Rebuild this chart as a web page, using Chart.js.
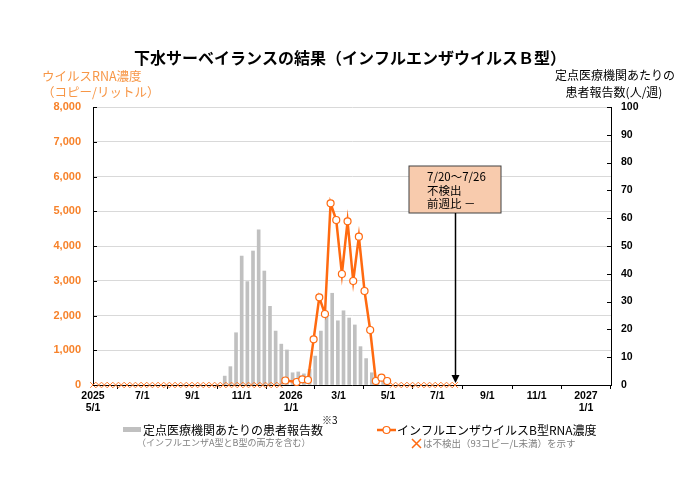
<!DOCTYPE html>
<html lang="ja">
<head>
<meta charset="UTF-8">
<title>下水サーベイランスの結果（インフルエンザウイルスＢ型）</title>
<script src="https://cdn.jsdelivr.net/npm/chart.js"></script>
<style>
  body { margin: 0; background: #fff; }
  #wrap { width: 700px; height: 485px; }
</style>
</head>
<body>
<div id="wrap"><canvas id="flu" width="700" height="485"></canvas></div>
<script>
// 下水の採水日（週ごと）
const sampleDates = [
  '2025-05-01','2025-05-08','2025-05-15','2025-05-22','2025-05-29','2025-06-05','2025-06-12','2025-06-19','2025-06-26',
  '2025-07-03','2025-07-10','2025-07-17','2025-07-24','2025-07-31','2025-08-07','2025-08-14','2025-08-21','2025-08-28',
  '2025-09-04','2025-09-11','2025-09-18','2025-09-25','2025-10-02','2025-10-09','2025-10-16','2025-10-23','2025-10-30',
  '2025-11-06','2025-11-13','2025-11-20','2025-11-27','2025-12-04','2025-12-11','2025-12-18','2025-12-25','2026-01-01',
  '2026-01-08','2026-01-15','2026-01-22','2026-01-29','2026-02-05','2026-02-12','2026-02-19','2026-02-26','2026-03-05',
  '2026-03-12','2026-03-19','2026-03-26','2026-04-02','2026-04-09','2026-04-16','2026-04-23','2026-04-30','2026-05-07',
  '2026-05-14','2026-05-21','2026-05-28','2026-06-04','2026-06-11','2026-06-18','2026-06-25','2026-07-02','2026-07-09',
  '2026-07-16','2026-07-23'
];
// インフルエンザB型RNA濃度（コピー/L）  'ND' = 不検出, null = 採水なし
const rnaValues = [
  'ND','ND','ND','ND','ND','ND','ND','ND','ND',
  'ND','ND','ND','ND','ND','ND','ND','ND','ND',
  'ND','ND','ND','ND','ND','ND','ND','ND','ND',
  'ND','ND','ND','ND','ND','ND','ND',130,null,
  86,163,144,1314,2523,2043,5228,4748,3194,
  4710,2993,4269,2705,1583,115,211,115,'ND',
  'ND','ND','ND','ND','ND','ND','ND','ND','ND',
  'ND','ND'
];
// 定点医療機関あたりの患者報告数（人/週）
const reportDates = [
  '2025-10-11','2025-10-18','2025-10-25','2025-11-01','2025-11-08','2025-11-15','2025-11-22','2025-11-29',
  '2025-12-06','2025-12-13','2025-12-20','2025-12-27','2026-01-03','2026-01-10','2026-01-17','2026-01-24',
  '2026-01-31','2026-02-07','2026-02-14','2026-02-21','2026-02-28','2026-03-07','2026-03-14','2026-03-21',
  '2026-03-28','2026-04-04','2026-04-11','2026-04-18','2026-04-25'
];
const reportValues = [
  3.2, 6.6, 18.8, 46.4, 37.2, 48.2, 55.8, 41.0,
  28.3, 19.4, 14.7, 12.6, 4.4, 4.7, 4.0, 5.6,
  10.4, 19.4, 24.8, 33.0, 23.1, 26.7, 24.1, 21.6,
  13.8, 9.5, 4.4, 2.8, 2.0
];
// x軸の目盛り
const tickDates = ['2025-05-01','2025-07-01','2025-09-01','2025-11-01','2026-01-01','2026-03-01',
                   '2026-05-01','2026-07-01','2026-09-01','2026-11-01','2027-01-01'];
const tickLabels = [['2025','5/1'],['7/1'],['9/1'],['11/1'],['2026','1/1'],['3/1'],
                    ['5/1'],['7/1'],['9/1'],['11/1'],['2027','1/1']];
const axisStart = '2025-05-01';
const axisEnd = '2027-02-01';
const latestWeek = ['7/20～7/26', '不検出', '前週比 －'];

const ORANGE = '#ff6a10';
const ORANGE_TXT = '#f7822a';
const JP = '"Noto Sans CJK JP", sans-serif';
const NUM = '"Liberation Sans", Arial, sans-serif';

function dayOf(s) {
  return (Date.parse(s) - Date.parse(axisStart)) / 86400000;
}
const tickDays = tickDates.map(dayOf);

const rnaPoints = [];
const ndPoints = [];
sampleDates.forEach((d, i) => {
  const v = rnaValues[i];
  if (v === 'ND') ndPoints.push({ x: dayOf(d), y: 0 });
  else if (v !== null) rnaPoints.push({ x: dayOf(d), y: v });
});
const barPoints = reportDates.map((d, i) => ({ x: dayOf(d), y: reportValues[i] }));

// タイトル・軸タイトル・凡例・注記
const decor = {
  id: 'decor',
  afterDraw(chart) {
    const ctx = chart.ctx;
    const a = chart.chartArea;
    const y = chart.scales.y, y2 = chart.scales.y2, x = chart.scales.x;
    ctx.save();
    ctx.textBaseline = 'middle';

    ctx.fillStyle = '#000';
    ctx.font = 'bold 16px ' + JP;
    ctx.textAlign = 'center';
    ctx.fillText('下水サーベイランスの結果（インフルエンザウイルスＢ型）', 350, 58);

    ctx.font = '12.5px ' + JP;
    ctx.fillStyle = '#f79646';
    ctx.textAlign = 'left';
    ctx.fillText('ウイルスRNA濃度', 42, 76);
    ctx.fillText('（コピー/リットル）', 42, 92);

    ctx.fillStyle = '#000';
    ctx.textAlign = 'center';
    ctx.font = '12px ' + JP;
    ctx.fillText('定点医療機関あたりの', 615, 75);
    ctx.fillText('患者報告数(人/週)', 614, 92);

    // 内向きの目盛り
    ctx.strokeStyle = '#000';
    ctx.lineWidth = 1;
    ctx.beginPath();
    y.ticks.forEach(t => {
      const py = Math.round(y.getPixelForValue(t.value)) + 0.5;
      ctx.moveTo(a.left, py); ctx.lineTo(a.left + 4, py);
    });
    y2.ticks.forEach(t => {
      const py = Math.round(y2.getPixelForValue(t.value)) + 0.5;
      ctx.moveTo(a.right - 4, py); ctx.lineTo(a.right, py);
    });
    ctx.stroke();

    // 凡例
    ctx.fillStyle = '#c0c0c0';
    ctx.fillRect(123, 427, 18, 5);
    ctx.fillStyle = '#000';
    ctx.textAlign = 'left';
    ctx.font = '12px ' + JP;
    ctx.fillText('定点医療機関あたりの患者報告数', 143, 430);
    ctx.font = '10px ' + JP;
    ctx.fillText('※3', 322, 420);
    ctx.fillStyle = '#7f7f7f';
    ctx.font = '9px ' + JP;
    ctx.fillText('（インフルエンザA型とB型の両方を含む）', 137, 443);

    ctx.strokeStyle = ORANGE;
    ctx.lineWidth = 2.5;
    ctx.beginPath(); ctx.moveTo(377, 430); ctx.lineTo(396, 430); ctx.stroke();
    ctx.fillStyle = '#fff';
    ctx.lineWidth = 1.2;
    ctx.beginPath(); ctx.arc(386.5, 430, 3.5, 0, Math.PI * 2); ctx.fill(); ctx.stroke();
    ctx.fillStyle = '#000';
    ctx.font = '12px ' + JP;
    ctx.fillText('インフルエンザウイルスB型RNA濃度', 397, 430);
    ctx.strokeStyle = ORANGE;
    ctx.lineWidth = 1.5;
    ctx.beginPath();
    ctx.moveTo(412, 439); ctx.lineTo(421, 448);
    ctx.moveTo(421, 439); ctx.lineTo(412, 448);
    ctx.stroke();
    ctx.fillStyle = '#7f7f7f';
    ctx.font = '9.5px ' + JP;
    ctx.fillText('は不検出（93コピー/L未満）を示す', 423, 443);

    // 最新週の注記
    const last = sampleDates[sampleDates.length - 1];
    const ax = Math.round(x.getPixelForValue(dayOf(last))) + 0.5;
    const bx = ax - 46.5, by = 166, bw = 92, bh = 47;
    ctx.fillStyle = '#f8cbad';
    ctx.fillRect(bx, by, bw, bh);
    ctx.strokeStyle = '#404040';
    ctx.lineWidth = 1;
    ctx.strokeRect(bx, by, bw, bh);
    ctx.fillStyle = '#000';
    ctx.font = '11.5px ' + JP;
    latestWeek.forEach((t, i) => ctx.fillText(t, bx + 18, 177 + i * 13.5));

    ctx.strokeStyle = '#000';
    ctx.lineWidth = 1.5;
    ctx.beginPath(); ctx.moveTo(ax, by + bh); ctx.lineTo(ax, a.bottom - 8); ctx.stroke();
    ctx.fillStyle = '#000';
    ctx.beginPath();
    ctx.moveTo(ax - 4, a.bottom - 10);
    ctx.lineTo(ax + 4, a.bottom - 10);
    ctx.lineTo(ax, a.bottom - 2);
    ctx.closePath();
    ctx.fill();
    ctx.restore();
  }
};

const chart = new Chart(document.getElementById('flu'), {
  type: 'line',
  data: {
    datasets: [
      {
        label: 'インフルエンザウイルスB型RNA濃度',
        data: rnaPoints,
        yAxisID: 'y',
        borderColor: ORANGE,
        borderWidth: 2.5,
        pointRadius: 3.5,
        pointBorderWidth: 1.2,
        pointBackgroundColor: '#fff',
        pointBorderColor: ORANGE,
        tension: 0,
        clip: false,
        order: 0
      },
      {
        label: '不検出',
        data: ndPoints,
        yAxisID: 'y',
        showLine: false,
        pointStyle: 'crossRot',
        pointRadius: 4,
        pointBorderWidth: 1,
        pointBorderColor: '#ff7a2a',
        clip: false,
        order: 1
      },
      {
        type: 'bar',
        label: '定点医療機関あたりの患者報告数',
        data: barPoints,
        yAxisID: 'y2',
        backgroundColor: '#c0c0c0',
        barThickness: 3,
        order: 2
      }
    ]
  },
  options: {
    responsive: false,
    animation: false,
    devicePixelRatio: 1,
    layout: { padding: { left: 0, right: 0, top: 107, bottom: 60 } },
    plugins: { legend: { display: false }, tooltip: { enabled: false } },
    scales: {
      x: {
        type: 'linear',
        min: 0,
        max: dayOf(axisEnd),
        offset: false,
        afterBuildTicks: s => { s.ticks = tickDays.map(v => ({ value: v })); },
        afterFit: s => { s.height = 40; },
        grid: { drawOnChartArea: false, color: '#000', tickLength: 4 },
        border: { color: '#000' },
        ticks: {
          autoSkip: false,
          maxRotation: 0,
          padding: 1,
          color: '#000',
          font: { family: NUM, size: 10.5, weight: 'bold', lineHeight: 1.15 },
          callback: v => {
            const i = tickDays.indexOf(v);
            return i >= 0 ? tickLabels[i] : '';
          }
        }
      },
      y: {
        position: 'left',
        min: 0,
        max: 8000,
        afterFit: s => { s.width = 93; },
        grid: { color: '#d9d9d9', drawTicks: false },
        border: { color: '#000' },
        ticks: {
          stepSize: 1000,
          padding: 12,
          color: ORANGE_TXT,
          font: { family: NUM, size: 11, weight: 'bold' },
          callback: v => v.toLocaleString('en-US')
        }
      },
      y2: {
        position: 'right',
        min: 0,
        max: 100,
        afterFit: s => { s.width = 89; },
        grid: { drawOnChartArea: false, drawTicks: false },
        border: { color: '#000' },
        ticks: {
          stepSize: 10,
          padding: 10,
          color: '#000',
          font: { family: NUM, size: 10.5, weight: 'bold' }
        }
      }
    }
  },
  plugins: [decor]
});
</script>
</body>
</html>
